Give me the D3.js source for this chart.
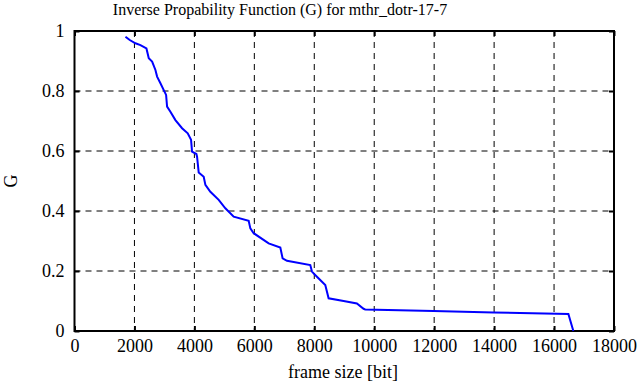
<!DOCTYPE html>
<html>
<head>
<meta charset="utf-8">
<script src="https://cdn.jsdelivr.net/npm/d3@7"></script>
<style>
  html, body { margin: 0; padding: 0; background: #fff; overflow: hidden; }
  svg { display: block; }
  svg text { font-family: 'Liberation Serif', 'Times New Roman', serif; fill: #000; }
</style>
</head>
<body>
<svg id="chart"></svg>
<script>
// frame size [bit] and G values
const frameSize = [1700, 1843, 2033, 2200, 2400, 2478, 2590, 2700, 2756, 2867, 2978, 3056, 3089,
  3200, 3367, 3589, 3778, 3889, 3922, 4067, 4089, 4144, 4311, 4367, 4533, 4811, 5033, 5311, 5811,
  5867, 5978, 6478, 6867, 6944, 7089, 7867, 7922, 8089, 8367, 8478, 8978, 9422, 9644, 9700, 11978,
  13978, 16478, 16644];
const gValue = [0.981, 0.97, 0.959, 0.953, 0.942, 0.909, 0.898, 0.87, 0.848, 0.826, 0.803, 0.787, 0.748,
  0.731, 0.703, 0.676, 0.659, 0.637, 0.598, 0.59, 0.581, 0.528, 0.514, 0.487, 0.464, 0.437, 0.409, 0.381, 0.367,
  0.342, 0.326, 0.292, 0.278, 0.242, 0.234, 0.22, 0.198, 0.181, 0.153, 0.109, 0.1, 0.092, 0.074, 0.072, 0.067,
  0.062, 0.057, 0];
const xTicks = [0, 2000, 4000, 6000, 8000, 10000, 12000, 14000, 16000, 18000];
const yTicks = [0, 0.2, 0.4, 0.6, 0.8, 1];

const width = 639, height = 387;
const margin = { top: 31, right: 25, bottom: 56, left: 74.5 };
const innerWidth = width - margin.left - margin.right;
const innerHeight = height - margin.top - margin.bottom;
const serif = "'Liberation Serif', 'Times New Roman', serif";

const svg = d3.select('#chart').attr('width', width).attr('height', height);
const g = svg.append('g').attr('transform', `translate(${margin.left}, ${margin.top})`);

const x = d3.scaleLinear().domain([0, 18000]).range([0, innerWidth]);
const y = d3.scaleLinear().domain([0, 1]).range([innerHeight, 0]);

// grid
g.append('g').selectAll('line')
  .data(xTicks.slice(1, -1))
  .enter().append('line')
    .attr('x1', d => x(d)).attr('x2', d => x(d))
    .attr('y1', 0).attr('y2', innerHeight)
    .attr('stroke', '#000').attr('stroke-width', 1).attr('stroke-dasharray', '6,5');
g.append('g').selectAll('line')
  .data(yTicks.slice(1, -1))
  .enter().append('line')
    .attr('y1', d => y(d)).attr('y2', d => y(d))
    .attr('x1', 0).attr('x2', innerWidth)
    .attr('stroke', '#000').attr('stroke-width', 1).attr('stroke-dasharray', '6,5');

// axes, ticks pointing inwards
const tick = 5;
g.append('g').attr('class', 'axis x')
  .attr('transform', `translate(0, ${innerHeight})`)
  .call(d3.axisBottom(x).tickValues(xTicks).tickSizeInner(-tick).tickSizeOuter(0).tickPadding(8).tickFormat(d3.format('d')));
g.append('g').attr('class', 'axis x2')
  .call(d3.axisTop(x).tickValues(xTicks).tickSizeInner(-tick).tickSizeOuter(0).tickFormat(''));
g.append('g').attr('class', 'axis y')
  .call(d3.axisLeft(y).tickValues(yTicks).tickSizeInner(-tick).tickSizeOuter(0).tickPadding(10).tickFormat(d => d3.format('')(d)));
g.append('g').attr('class', 'axis y2')
  .attr('transform', `translate(${innerWidth}, 0)`)
  .call(d3.axisRight(y).tickValues(yTicks).tickSizeInner(-tick).tickSizeOuter(0).tickFormat(''));

g.selectAll('.axis.x2 text, .axis.y2 text').remove();
g.selectAll('.axis').attr('font-family', null).attr('font-size', null);
g.selectAll('.axis .domain').remove();
g.selectAll('.axis line').attr('stroke', '#000').attr('stroke-width', 2);
g.selectAll('.axis text')
  .style('font-family', serif)
  .style('font-size', '18px')
  .attr('fill', '#000');

// frame
g.append('rect')
  .attr('width', innerWidth).attr('height', innerHeight)
  .attr('fill', 'none').attr('stroke', '#000').attr('stroke-width', 2);

// curve
const pts = frameSize.map((d, i) => [d, gValue[i]]);
g.append('path')
  .datum(pts)
  .attr('fill', 'none')
  .attr('stroke', '#0000ff')
  .attr('stroke-width', 2)
  .attr('d', d3.line().x(d => x(d[0])).y(d => y(d[1])));

// labels
svg.append('text')
  .attr('x', 280).attr('y', 15)
  .attr('text-anchor', 'middle')
  .style('font-size', '16px')
  .text('Inverse Propability Function (G) for mthr_dotr-17-7');
svg.append('text')
  .attr('x', 343).attr('y', 378)
  .attr('text-anchor', 'middle')
  .style('font-size', '18px')
  .text('frame size [bit]');
svg.append('text')
  .attr('transform', `translate(17, ${margin.top + innerHeight / 2}) rotate(-90)`)
  .attr('text-anchor', 'middle')
  .style('font-size', '18px')
  .text('G');
</script>
</body>
</html>
